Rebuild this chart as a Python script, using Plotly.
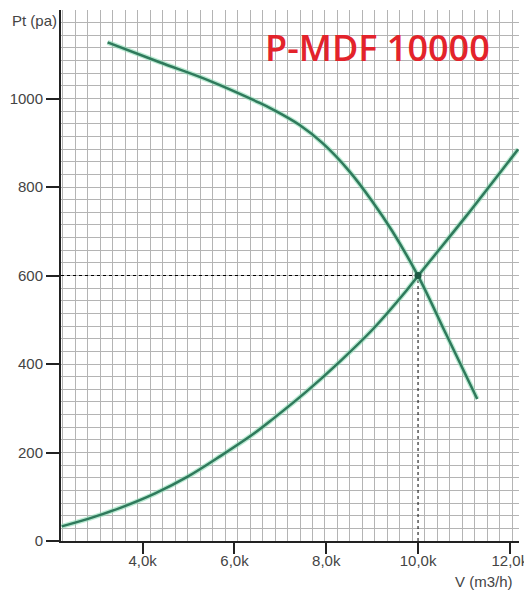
import plotly.graph_objects as go

# charakterystyka wentylatora (spadek ciśnienia przy większym przepływie)
fan_v = [3235, 4370, 5460, 6550, 6840, 7420, 7920, 8500, 9000, 9440, 10000, 10600, 11290]
fan_p = [1127, 1082, 1040, 990, 975, 940, 899, 836, 768, 700, 599, 470, 321]

# charakterystyka instalacji
sys_v = [2235, 2810, 3540, 4260, 4990, 5710, 6440, 6840, 7560, 8290, 9010, 9740, 10000, 10310, 11040, 11760, 12180]
sys_p = [33, 50, 76, 107, 146, 193, 244, 276, 337, 405, 478, 565, 599, 639, 733, 829, 885]

# punkt pracy
op_v = 10000
op_p = 600

x_min, x_max = 2220, 12200
y_min, y_max = 0, 1200

x_ticks = [4000, 6000, 8000, 10000, 12000]
x_labels = ['4,0k', '6,0k', '8,0k', '10,0k', '12,0k']
y_ticks = [0, 200, 400, 600, 800, 1000]

green = '#2f7a5c'
halo = 'rgba(140,220,180,0.6)'
txt = '#444444'

fig = go.Figure()

# linie przerywane do punktu pracy
fig.add_trace(go.Scatter(x=[x_min, op_v], y=[op_p, op_p], mode='lines',
                         line=dict(color='black', width=1, dash='3px,3px'), hoverinfo='skip'))
fig.add_trace(go.Scatter(x=[op_v, op_v], y=[y_min, op_p], mode='lines',
                         line=dict(color='black', width=1, dash='3px,3px'), hoverinfo='skip'))

for xs, ys in [(fan_v, fan_p), (sys_v, sys_p)]:
    fig.add_trace(go.Scatter(x=xs, y=ys, mode='lines', line=dict(color=halo, width=5, shape='spline')))
    fig.add_trace(go.Scatter(x=xs, y=ys, mode='lines', line=dict(color=green, width=2.5, shape='spline')))

fig.add_trace(go.Scatter(x=[op_v], y=[op_p], mode='markers',
                         marker=dict(color='#1d5a44', size=7)))

# strona ma margines 8px, więc figura jest o tyle mniejsza
fig.update_layout(
    width=524,
    height=583,
    margin=dict(l=53, r=13, t=2, b=50),
    showlegend=False,
    plot_bgcolor='white',
    paper_bgcolor='white',
    font=dict(family='Liberation Sans, Arial', size=15, color=txt),
)

fig.update_xaxes(
    range=[x_min, x_max],
    automargin=False,
    ticklabeloverflow='allow',
    ticklabelstandoff=-6,
    tickvals=x_ticks,
    ticktext=x_labels,
    showgrid=False,
    zeroline=False,
    showline=True, linecolor='#222', linewidth=2,
    ticks='outside', ticklen=11, tickwidth=1.5, tickcolor='#222',
    minor=dict(tick0=2260, dtick=272, showgrid=True, gridcolor='#b4b4b4', gridwidth=1, ticks=''),
)

fig.update_yaxes(
    range=[y_min, y_max],
    automargin=False,
    tickvals=y_ticks,
    showgrid=True, gridcolor='#b4b4b4', gridwidth=1,
    zeroline=False,
    showline=True, linecolor='#222', linewidth=2,
    ticks='outside', ticklen=13, tickwidth=1.5, tickcolor='#222',
    minor=dict(tick0=0, dtick=200/7, showgrid=True, gridcolor='#b4b4b4', gridwidth=1, ticks=''),
)

fig.add_annotation(text='Pt (pa)', xref='paper', yref='paper', x=0, y=1,
                   xanchor='right', yanchor='middle', xshift=-2, yshift=-10,
                   showarrow=False, font=dict(size=15, color=txt))
fig.add_annotation(text='V (m3/h)', xref='paper', yref='paper', x=1, y=0,
                   xanchor='right', yanchor='middle', xshift=-4, yshift=-40,
                   showarrow=False, font=dict(size=15, color=txt))
fig.add_annotation(text='P-MDF 10000', xref='paper', yref='paper', x=0.69, y=0.93,
                   xanchor='center', yanchor='middle', showarrow=False,
                   font=dict(family='Open Sans', size=36, weight=600, color='#e3232b'))

fig.write_html('out.html')
